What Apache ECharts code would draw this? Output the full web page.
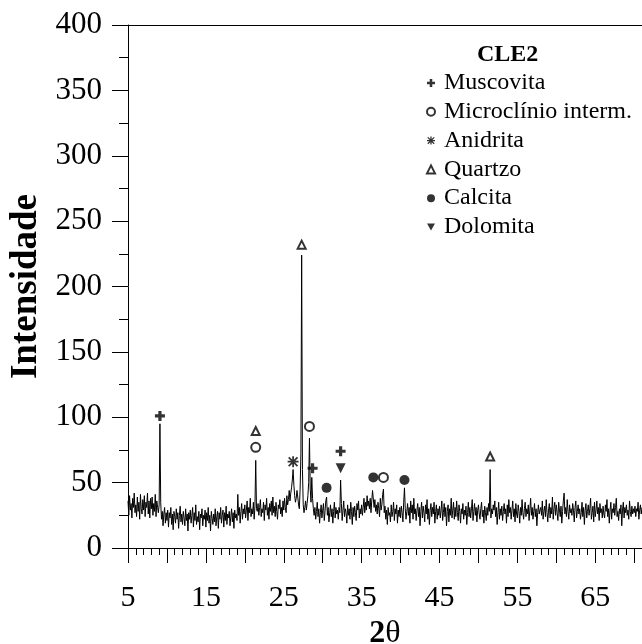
<!DOCTYPE html>
<html>
<head>
<meta charset="utf-8">
<script src="https://cdn.jsdelivr.net/npm/echarts@6/dist/echarts.min.js"></script>
<style>
html,body{margin:0;padding:0;background:#fff;}
#chart{width:642px;height:644px;}
</style>
</head>
<body>
<div id="chart"></div>
<script>
// XRD pattern CLE2: scan start / step (2θ, degrees) and intensities
const twoThetaStart = 5;
const twoThetaStep = 0.1;
const intensity = [
36,25,40,29,34,23,38,31,42,27,
33,24,39,28,35,22,41,30,26,37,
29,40,24,35,31,42,26,36,23,38,
30,39,25,34,28,41,24,36,31,27,
33,95,35,22,28,17,26,31,19,27,
21,29,16,27,23,31,18,26,14,28,
24,19,30,22,27,15,25,32,20,26,
18,28,23,17,30,21,26,13,27,22,
29,19,25,31,16,27,21,33,18,24,
20,28,14,26,23,30,17,25,22,29,
16,27,21,31,19,25,13,28,23,18,
26,20,30,17,24,28,15,27,22,31,
19,25,29,16,27,21,32,18,26,23,
28,17,24,30,20,27,15,29,23,26,
21,41,25,31,19,28,34,22,30,26,
33,23,29,36,21,31,27,38,24,30,
26,35,22,32,67,30,28,34,25,31,
37,24,30,27,35,21,33,29,38,25,
31,22,34,28,36,25,39,27,32,24,
35,28,22,33,30,37,26,31,24,36,
29,38,31,27,40,33,37,44,36,42,
46,52,60,48,40,35,38,44,39,33,
30,45,72,224,60,33,27,31,36,29,
34,40,50,84,45,35,54,38,30,25,
31,22,28,35,24,30,19,27,33,23,
29,34,21,28,36,39,25,31,20,27,
33,24,30,19,28,35,23,31,26,29,
22,31,27,52,34,21,29,36,24,30,
27,19,33,25,30,22,35,28,18,31,
24,32,27,21,34,29,36,23,30,26,
33,25,31,38,27,35,29,40,32,36,
30,38,27,36,44,45,31,37,28,33,
26,35,30,24,38,29,33,41,45,27,
32,22,29,18,31,25,27,20,33,24,
28,35,21,30,26,33,19,29,24,31,
23,32,27,20,35,46,30,22,28,34,
25,31,19,36,27,33,22,38,26,30,
21,29,34,24,31,17,28,35,23,32,
27,20,33,26,37,22,30,18,29,34,
24,31,26,35,19,28,33,22,30,25,
32,23,29,36,21,27,34,24,31,17,
28,33,20,30,25,38,23,29,35,22,
31,24,36,27,21,33,28,19,30,26,
34,22,29,25,32,18,27,35,24,31,
23,30,37,21,28,34,25,31,20,29,
33,26,22,30,35,24,29,19,32,27,
21,31,25,34,28,60,23,30,26,33,
29,36,24,31,18,27,35,22,30,25,
32,21,28,34,26,30,19,33,24,37,
27,31,22,29,36,24,30,20,34,26,
23,33,28,19,31,25,37,27,22,30,
35,24,30,26,33,21,29,38,25,31,
22,28,34,24,30,17,27,33,26,29,
31,25,36,22,28,32,24,37,27,20,
29,34,23,31,26,39,22,30,35,25,
33,27,21,35,29,24,32,19,28,36,
42,26,31,24,37,28,22,33,27,30,
25,34,29,20,31,36,23,28,33,26,
30,22,27,35,24,31,18,29,34,23,
28,33,25,30,38,22,27,32,20,35,
24,29,36,26,31,21,34,27,30,23,
32,26,23,33,28,37,24,30,19,29,
35,22,30,27,34,25,31,38,24,28,
21,30,26,33,17,29,35,23,31,27,
33,25,29,22,36,28,24,32,26,30,
27,32,24,30,28,35,22,29,33,26,
31
];

// Phase markers [2θ, intensity position]
const muscovita = [[9.1,101],[28.7,61],[32.3,74]];
const microclinio = [[21.4,77],[28.3,93],[37.8,54]];
const anidrita = [[26.2,66]];
const quartzo = [[21.4,89.5],[27.3,232],[51.5,70]];
const calcita = [[30.5,46],[36.5,54],[40.5,52]];
const dolomita = [[32.3,61]];

const phaseNames = ['Muscovita','Microclínio interm.','Anidrita','Quartzo','Calcita','Dolomita'];
const xTickLabels = [5,15,25,35,45,55,65];
const yTickLabels = [0,50,100,150,200,250,300,350,400];

const serif = "'Liberation Serif','Times New Roman',serif";
const pattern = intensity.map((v,i)=>[+(twoThetaStart + i*twoThetaStep).toFixed(2), v]);

const PLUS = 'path://M3.4,0H6.6V3.4H10V6.6H6.6V10H3.4V6.6H0V3.4H3.4Z';
const STAR = 'path://M4.2,0H5.8V10H4.2Z M0,4.2H10V5.8H0Z M1.57,0.43L9.57,8.43L8.43,9.57L0.43,1.57Z M8.43,0.43L9.57,1.57L1.57,9.57L0.43,8.43Z';
const DOWN = 'path://M0,0H10L5,8.7Z';

function markerSeries(name, data, symbol, size, empty){
  return {
    name, type:'scatter', data, symbol, symbolSize:size, z:5,
    itemStyle: empty ? {color:'#000', borderColor:'#000', borderWidth:1} : {color:'#000'},
    emphasis:{disabled:true}
  };
}

const chart = echarts.init(document.getElementById('chart'), null, {renderer:'canvas'});
chart.setOption({
  animation:false,
  backgroundColor:'#fff',
  title:{
    text:'CLE2', left:472, top:38,
    textStyle:{fontFamily:serif, fontWeight:'bold', fontSize:24, color:'#000'}
  },
  legend:{
    data:phaseNames, orient:'vertical', left:421, top:66,
    itemWidth:8, itemHeight:8, itemGap:4.8, selectedMode:false,
    textStyle:{fontFamily:serif, fontSize:24, color:'#000', lineHeight:24, padding:[0,0,0,4]}
  },
  grid:{left:128, right:0, top:25, bottom:96, outerBoundsMode:'none'},
  xAxis:[{
    type:'value', min:5, max:71, interval:5,
    name:'{b|2}θ', nameLocation:'middle', nameGap:46,
    nameTextStyle:{fontFamily:serif, fontSize:32, color:'#000', rich:{b:{fontFamily:serif, fontSize:32, fontWeight:'bold', color:'#000'}}},
    axisLine:{lineStyle:{color:'#000', width:1}},
    axisTick:{show:true, inside:false, length:15, lineStyle:{color:'#000'}},
    minorTick:{show:true, splitNumber:5, length:7, lineStyle:{color:'#000'}},
    splitLine:{show:false},
    axisLabel:{fontFamily:serif, fontSize:30, color:'#000', margin:35, showMaxLabel:false,
      formatter:v=> xTickLabels.includes(Math.round(v)) ? String(Math.round(v)) : ''}
  },{
    type:'value', min:5, max:71, position:'top',
    axisLine:{show:true, lineStyle:{color:'#000', width:1}},
    axisTick:{show:false}, axisLabel:{show:false}, splitLine:{show:false}
  }],
  yAxis:{
    type:'value', min:0, max:400, interval:50,
    name:'Intensidade', nameLocation:'middle', nameGap:80,
    nameTextStyle:{fontFamily:serif, fontSize:37, fontWeight:'bold', color:'#000'},
    axisLine:{lineStyle:{color:'#000', width:1}},
    axisTick:{show:true, inside:false, length:16, lineStyle:{color:'#000'}},
    minorTick:{show:true, splitNumber:2, length:9, lineStyle:{color:'#000'}},
    splitLine:{show:false},
    axisLabel:{fontFamily:serif, fontSize:31, color:'#000', margin:26,
      formatter:v=> yTickLabels.includes(v) ? String(v) : ''}
  },
  series:[
    {type:'line', name:'CLE2', data:pattern, showSymbol:false, symbol:'none', sampling:null,
     lineStyle:{color:'#000', width:1}, z:3, emphasis:{disabled:true}},
    markerSeries('Muscovita', muscovita, PLUS, 10, false),
    markerSeries('Microclínio interm.', microclinio, 'emptyCircle', 9, true),
    markerSeries('Anidrita', anidrita, STAR, 11, false),
    markerSeries('Quartzo', quartzo, 'emptyTriangle', 8, true),
    markerSeries('Calcita', calcita, 'circle', 10, false),
    markerSeries('Dolomita', dolomita, DOWN, 10, false)
  ]
});
</script>
</body>
</html>
